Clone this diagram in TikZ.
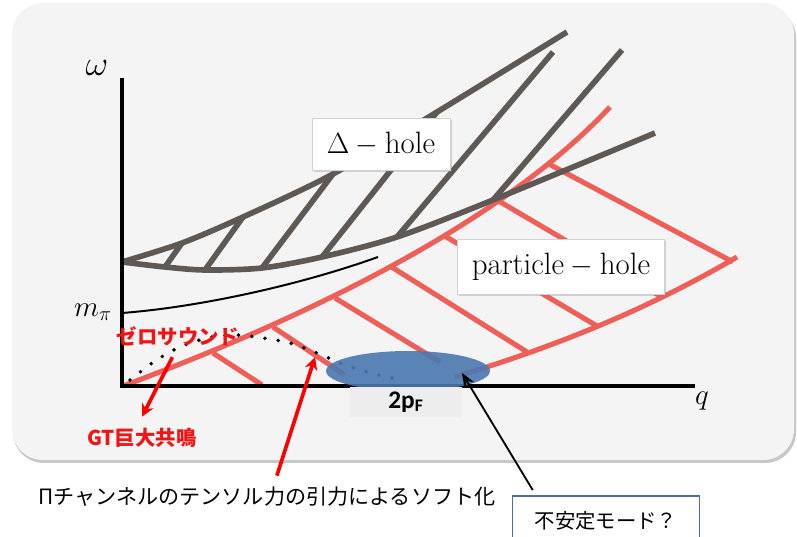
\documentclass[tikz,border=0pt]{standalone}
\usepackage{fontspec}
\usepackage{amsmath}
\usetikzlibrary{arrows.meta, shadows, calc}
\newfontfamily\jpfont{Noto Sans CJK JP}
\newfontfamily\calibrifont{Carlito}
\definecolor{bgfill}{HTML}{F4F4F4}
\definecolor{holegray}{HTML}{5E5955}
\definecolor{phred}{HTML}{EF5F58}
\definecolor{zsred}{HTML}{F01414}
\definecolor{pfblue}{HTML}{4A78B0}
\definecolor{pfbox}{HTML}{EDEDED}
\definecolor{boxblue}{HTML}{4F6E9E}

\begin{document}
\begin{tikzpicture}[x=0.025cm, y=-0.025cm,
    ghatch/.style={draw=holegray, line width=4pt},
    rhatch/.style={draw=phred, line width=3.6pt},
    axisline/.style={line width=2.2pt},
    labelbox/.style={draw=gray!35, fill=white, line width=0.5pt, drop shadow={shadow xshift=1.2pt, shadow yshift=-1.2pt, opacity=0.3}, font=\fontsize{22}{24}\selectfont},
    jpred/.style={text=zsred, font=\jpfont\bfseries\fontsize{14.5}{16}\selectfont, inner sep=1pt},
    redarrow/.style={draw=red, line width=2.6pt, -{Stealth[length=9pt, width=9pt]}},
    blackarrow/.style={draw=black, line width=1.3pt, -{Stealth[length=10pt, width=8pt]}},
    zsdots/.style={line width=2.8pt, dash pattern=on 0pt off 9.5pt, line cap=round}
]
    \useasboundingbox (0,0) rectangle (797,537);

    % Background panel
    \fill[black!22, rounded corners=22pt] (13,7) rectangle (796,463);
    \fill[bgfill, rounded corners=22pt] (12,3) rectangle (794,460);

    % Particle-hole continuum
    \draw[rhatch] (123,386) .. controls (300,320) and (500,225) .. (610,107);
    \draw[rhatch] (455,377) .. controls (560,345) and (650,308) .. (737,257);
    \foreach \xa/\ya/\xb/\yb in {213/353/262/385, 273/327/345/375, 335/298/440/362, 390/266/527/352, 443/235/597/326, 497/200/660/296, 547/163/733/262}
        \draw[rhatch] (\xa,\ya) -- (\xb,\yb);

    % Delta-hole continuum
    \draw[ghatch] plot[smooth] coordinates {(122,262) (182,243) (243,217) (333,174) (437,112) (567,32)};
    \draw[ghatch] plot[smooth] coordinates {(122,262) (165,267) (205,270) (262,268) (322,257) (397,237) (493,200) (655,133)};
    \foreach \xa/\ya/\xb/\yb in {165/267/182/243, 205/270/243/217, 262/268/333/174, 322/257/437/112, 397/237/553/52, 493/200/622/50}
        \draw[ghatch] (\xa,\ya) -- (\xb,\yb);

    % Pion branch
    \draw[line width=1.4pt] (122,313) .. controls (200,307) and (300,285) .. (378,257);

    % Zero sound
    \draw[zsdots] plot[smooth] coordinates {(130,380) (155,361) (180,347) (207,338) (235,335) (263,338) (290,343) (317,353) (345,365) (375,374) (405,381)};

    % Axes
    \draw[axisline] (122,78) -- (122,386) -- (695,386);

    % Unstable region near 2p_F
    \fill[pfblue, fill opacity=0.9] (408,371) ellipse [x radius=82, y radius=20];
    \node[fill=pfbox, minimum width=80pt, minimum height=20pt, font=\calibrifont\bfseries\fontsize{18}{20}\selectfont] (twopf) at (406,402) {2p\textsubscript{F}};

    % Axis labels
    \node[font=\fontsize{24}{26}\selectfont] (omega) at (97,68) {$\omega$};
    \node[font=\fontsize{20}{22}\selectfont] (mpi) at (93,312) {$m_\pi$};
    \node[font=\fontsize{22}{24}\selectfont] (qlab) at (702,401) {$q$};

    % Continuum labels
    \node[labelbox, minimum width=98pt, minimum height=37pt] (dhole) at (381,144) {$\Delta - \mathrm{hole}$};
    \node[labelbox, minimum width=147pt, minimum height=39pt] (phole) at (561,267) {$\mathrm{particle} - \mathrm{hole}$};

    % Annotations
    \node[jpred] (zs) at (178,336) {ゼロサウンド};
    \node[jpred] (gt) at (142,438) {GT巨大共鳴};
    \node[font=\jpfont\fontsize{15}{17}\selectfont, inner sep=1pt] (tensor) at (267,497) {Πチャンネルのテンソル力の引力によるソフト化};
    \node[draw=boxblue, line width=1.2pt, fill=white, minimum width=133pt, minimum height=36pt, anchor=north, font=\jpfont\fontsize{14.5}{16}\selectfont] (unstable) at (606,495) {不安定モード？};

    \coordinate (softdip) at (315,357);
    \coordinate (unstab) at (462,373);

    \draw[redarrow] ([xshift=-4pt,yshift=-7pt]zs.south) -- ([yshift=7pt]gt.north);
    \draw[redarrow] ([xshift=7pt,yshift=7pt]tensor.north) -- (softdip);
    \draw[blackarrow] ([xshift=15pt,yshift=3.5pt]unstable.north west) -- (unstab);
\end{tikzpicture}
\end{document}
